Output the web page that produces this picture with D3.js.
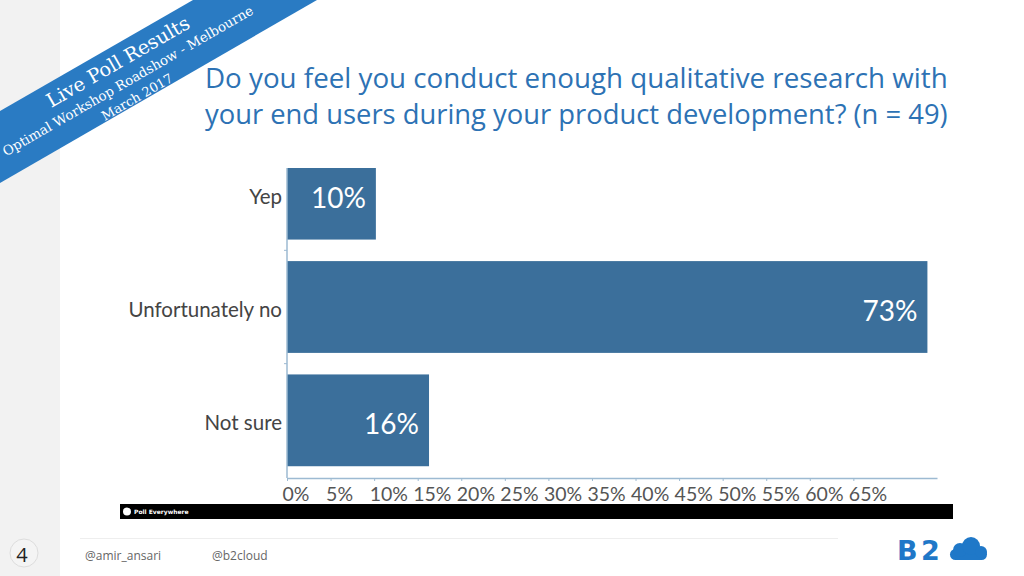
<!DOCTYPE html>
<html><head><meta charset="utf-8">
<script src="https://cdn.jsdelivr.net/npm/d3@7"></script>
<style>body{margin:0;background:#fff} svg{display:block}</style>
</head><body><svg id="c" width="1024" height="576"></svg>
<script>
// ---- data ----
const categories = ["Yep", "Unfortunately no", "Not sure"];
const values = [10.2, 73.5, 16.3];          // 5/49, 36/49, 8/49
const valueLabels = ["10%", "73%", "16%"];
const tickValues = [0, 5, 10, 15, 20, 25, 30, 35, 40, 45, 50, 55, 60, 65];
const tickLabels = ["0%", "5%", "10%", "15%", "20%", "25%", "30%", "35%", "40%", "45%", "50%", "55%", "60%", "65%"];
const titleLines = ["Do you feel you conduct enough qualitative research with",
                    "your end users during your product development? (n = 49)"];
const bannerLines = ["Live Poll Results", "Optimal Workshop Roadshow - Melbourne", "March 2017"];
const footerHandles = ["@amir_ansari", "@b2cloud"];
const pageNumber = "4";

// ---- setup ----
const svg = d3.select("#c");
const blue = "#3b6f9b";
function fitWidth(sel, w) {
  const len = sel.node().getComputedTextLength();
  const fs = parseFloat(sel.attr("font-size"));
  sel.attr("font-size", fs * w / len);
}

// left gray panel
svg.append("rect").attr("x", 0).attr("y", 0).attr("width", 60).attr("height", 576).attr("fill", "#f2f2f2");

// title
const titleG = svg.append("g");
titleLines.forEach((t, i) => {
  const tx = titleG.append("text").attr("x", 205).attr("y", 88 + i * 36)
    .attr("font-family", "'Open Sans', sans-serif").attr("font-size", 28)
    .attr("fill", "#2d72b4").text(t);
  fitWidth(tx, 743);
});

// ---- chart ----
const x = d3.scaleLinear().domain([0, 74.6]).range([287, 937]);
const y = d3.scaleBand().domain(categories).range([137, 477]).paddingInner(0.19).paddingOuter(0.095);

svg.append("clipPath").attr("id", "clip").append("rect")
  .attr("x", 280).attr("y", 168).attr("width", 700).attr("height", 320);

const plot = svg.append("g").attr("clip-path", "url(#clip)");
plot.selectAll("rect.bar").data(categories).join("rect").attr("class", "bar")
  .attr("x", x(0)).attr("y", d => y(d))
  .attr("width", (d, i) => x(values[i]) - x(0))
  .attr("height", y.bandwidth()).attr("fill", blue);

// y axis line + small ticks at band boundaries
const axisCol = "#9dbad2";
svg.append("line").attr("x1", x(0)).attr("x2", x(0)).attr("y1", 168).attr("y2", 478)
  .attr("stroke", axisCol).attr("stroke-width", 1.5);
svg.selectAll("line.ytick").data(categories.slice(1)).join("line").attr("class", "ytick")
  .attr("x1", x(0) - 3).attr("x2", x(0)).attr("y1", d => y(d) - y.step() * y.paddingInner() / 2)
  .attr("y2", d => y(d) - y.step() * y.paddingInner() / 2).attr("stroke", axisCol);

// category labels
svg.selectAll("text.cat").data(categories).join("text").attr("class", "cat")
  .attr("x", 282).attr("y", d => y(d) + y.bandwidth() / 2 + 2)
  .attr("text-anchor", "end").attr("dominant-baseline", "central")
  .attr("font-family", "Lato, sans-serif").attr("font-size", 20.5).attr("fill", "#444")
  .text(d => d);

// value labels
svg.selectAll("text.val").data(categories).join("text").attr("class", "val")
  .attr("x", (d, i) => x(values[i]) - 10).attr("y", d => y(d) + y.bandwidth() / 2 + 3)
  .attr("text-anchor", "end").attr("dominant-baseline", "central")
  .attr("font-family", "Lato, sans-serif").attr("font-size", 28).attr("fill", "#fff")
  .text((d, i) => valueLabels[i]);

// x axis
const xAxis = d3.axisBottom(x).tickValues(tickValues).tickFormat((d, i) => tickLabels[i]).tickSize(3).tickSizeOuter(0);
const ax = svg.append("g").attr("transform", "translate(0,478)").call(xAxis);
ax.select(".domain").attr("stroke", axisCol).attr("stroke-width", 1.5);
ax.selectAll(".tick line").attr("stroke", axisCol);
ax.selectAll(".tick text").attr("font-family", "Lato, sans-serif").attr("font-size", 19.5)
  .attr("fill", "#555").attr("text-anchor", "start").attr("dx", -5).attr("dy", "0.85em");

// poll everywhere strip
svg.append("rect").attr("x", 120).attr("y", 504).attr("width", 833).attr("height", 15).attr("fill", "#000");
svg.append("circle").attr("cx", 127).attr("cy", 511.5).attr("r", 4).attr("fill", "#fff");
svg.append("text").attr("x", 134).attr("y", 514).attr("font-family", "'DejaVu Sans', sans-serif")
  .attr("font-weight", "bold").attr("font-size", 6).attr("fill", "#fff").text("Poll Everywhere");

// banner ribbon
const ribbon = svg.append("g");
ribbon.append("polygon").attr("points", "0,111 193,0 317,0 0,183").attr("fill", "#2a7bc3");
const bannerPos = [[118, 62, 19, 162], [128, 81, 13, 287], [137, 97, 13, 80]];
bannerLines.forEach((t, i) => {
  const p = bannerPos[i];
  const tx = ribbon.append("text").attr("transform", `translate(${p[0]},${p[1]}) rotate(-30)`)
    .attr("text-anchor", "middle").attr("dominant-baseline", "central")
    .attr("font-family", "'DejaVu Serif', serif").attr("font-size", p[2]).attr("fill", "#fff").text(t);
  fitWidth(tx, p[3]);
});

// footer
svg.append("line").attr("x1", 80).attr("x2", 838).attr("y1", 538.5).attr("y2", 538.5).attr("stroke", "#eee");
svg.append("circle").attr("cx", 24).attr("cy", 553).attr("r", 14).attr("fill", "#f4f4f4").attr("stroke", "#ddd");
svg.append("text").attr("x", 22).attr("y", 554).attr("text-anchor", "middle").attr("dominant-baseline", "central")
  .attr("font-family", "'Open Sans', sans-serif").attr("font-size", 20).attr("fill", "#222").text(pageNumber);
[85, 212].forEach((px, i) => {
  svg.append("text").attr("x", px).attr("y", 560).attr("font-family", "'Open Sans', sans-serif")
    .attr("font-size", 12).attr("fill", "#666").text(footerHandles[i]);
});

// b2cloud logo
const logo = svg.append("g").attr("fill", "#1f78c8");
logo.append("text").attr("x", 897).attr("y", 560).attr("font-family", "'DejaVu Sans', sans-serif")
  .attr("font-weight", "bold").attr("font-size", 27).text("B");
logo.append("text").attr("x", 921).attr("y", 560).attr("font-family", "'DejaVu Sans', sans-serif")
  .attr("font-weight", "bold").attr("font-size", 27).text("2");
logo.append("rect").attr("x", 950).attr("y", 549).attr("width", 37).attr("height", 11).attr("rx", 5.5);
logo.append("circle").attr("cx", 960).attr("cy", 550).attr("r", 7);
logo.append("circle").attr("cx", 971).attr("cy", 546).attr("r", 9);
logo.append("circle").attr("cx", 981).attr("cy", 552).attr("r", 6);
</script></body></html>
